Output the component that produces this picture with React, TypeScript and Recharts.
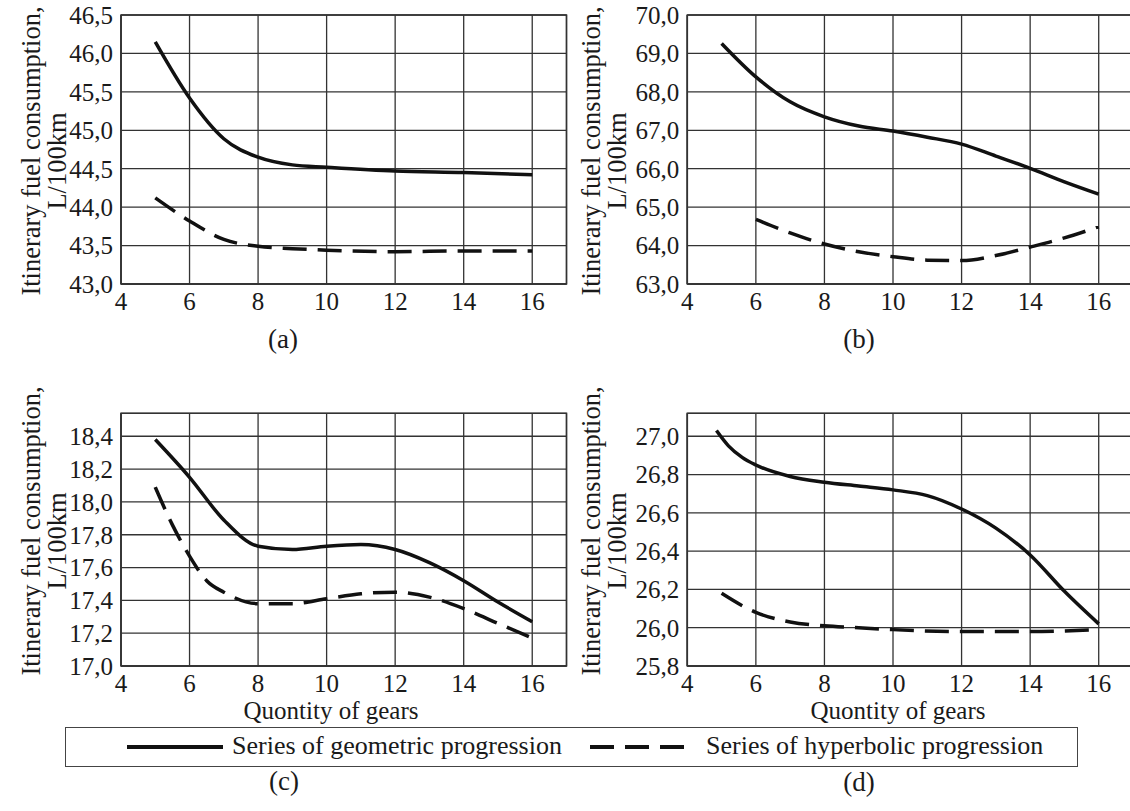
import React from "react";
import { LineChart, Line, XAxis, YAxis, CartesianGrid, ReferenceArea } from "recharts";

const FONT = '"Liberation Serif", "Times New Roman", serif';
const INK = "#1a1a1a";

const xTicks = [4, 6, 8, 10, 12, 14, 16];

// (a)
const gearsGeomA = [5, 6, 7, 8, 9, 10, 12, 14, 16];
const geomA = [46.15, 45.42, 44.89, 44.65, 44.55, 44.52, 44.47, 44.45, 44.42];
const gearsHypA = [5, 6, 7, 8, 9, 10, 12, 14, 16];
const hypA = [44.12, 43.82, 43.58, 43.49, 43.46, 43.44, 43.42, 43.43, 43.43];
const yTicksA = [43, 43.5, 44, 44.5, 45, 45.5, 46, 46.5];

// (b)
const gearsGeomB = [5, 6, 7, 8, 9, 10, 11, 12, 13, 14, 15, 16];
const geomB = [69.26, 68.39, 67.74, 67.35, 67.11, 66.98, 66.82, 66.64, 66.33, 66.01, 65.66, 65.34];
const gearsHypB = [6, 7, 8, 9, 10, 11, 12, 13, 14, 15, 16];
const hypB = [64.68, 64.33, 64.04, 63.84, 63.71, 63.62, 63.61, 63.74, 63.96, 64.2, 64.49];
const yTicksB = [63, 64, 65, 66, 67, 68, 69, 70];

// (c)
const gearsGeomC = [5, 6, 7, 8, 9, 10, 11, 12, 13, 14, 15, 16];
const geomC = [18.38, 18.15, 17.89, 17.73, 17.71, 17.73, 17.74, 17.71, 17.63, 17.52, 17.39, 17.27];
const gearsHypC = [5, 5.5, 6, 6.5, 7, 8, 9, 10, 11, 12, 13, 14, 15, 16];
const hypC = [18.09, 17.86, 17.67, 17.52, 17.45, 17.38, 17.38, 17.41, 17.44, 17.45, 17.42, 17.35, 17.26, 17.17];
const yTicksC = [17, 17.2, 17.4, 17.6, 17.8, 18, 18.2, 18.4];

// (d)
const gearsGeomD = [4.85, 5.2, 5.6, 6, 7, 8, 9, 10, 11, 12, 13, 14, 15, 16];
const geomD = [27.03, 26.95, 26.89, 26.85, 26.79, 26.76, 26.74, 26.72, 26.69, 26.62, 26.52, 26.38, 26.19, 26.02];
const gearsHypD = [5, 6, 7, 8, 9, 10, 12, 14, 16];
const hypD = [26.18, 26.08, 26.03, 26.01, 26.0, 25.99, 25.98, 25.98, 25.99];
const yTicksD = [25.8, 26, 26.2, 26.4, 26.6, 26.8, 27];

const zip = (xs: number[], ys: number[]) => xs.map((x, i) => ({ x, y: ys[i] }));
const comma = (v: number) => v.toFixed(1).replace(".", ",");

// custom ticks so the serif face is really used
const XTick = (p: any) => (
  <text x={p.x} y={p.y} dy="0.71em" textAnchor="middle" fontFamily={FONT} fontSize={25} fill={INK}>
    {p.payload.value}
  </text>
);
const YTick = (p: any) => (
  <text x={p.x} y={p.y} dy="0.355em" textAnchor="end" fontFamily={FONT} fontSize={25} fill={INK}>
    {comma(p.payload.value)}
  </text>
);

interface PanelProps {
  left: number; top: number; axisW: number; mTop: number; mRight: number; mBottom: number;
  yDomain: [number, number]; yTicks: number[];
  geom: { x: number; y: number }[]; hyp: { x: number; y: number }[];
}

function Panel({ left, top, axisW, mTop, mRight, mBottom, yDomain, yTicks, geom, hyp }: PanelProps) {
  return (
    <div style={{ position: "absolute", left, top }}>
      <LineChart width={600} height={330} margin={{ top: mTop, right: mRight, left: 0, bottom: mBottom }}>
        <CartesianGrid stroke="#333" strokeWidth={1.3} />
        <XAxis type="number" dataKey="x" domain={[4, 17]} ticks={xTicks} allowDataOverflow
          tickLine={false} axisLine={{ stroke: "#333", strokeWidth: 1.5 }} tick={<XTick />} height={30} interval={0} />
        <YAxis type="number" domain={yDomain} ticks={yTicks} allowDataOverflow width={axisW}
          tickLine={false} axisLine={{ stroke: "#333", strokeWidth: 1.5 }} tick={<YTick />} interval={0} />
        <ReferenceArea x1={4} x2={17} y1={yDomain[0]} y2={yDomain[1]} fill="none" fillOpacity={0}
          stroke="#333" strokeWidth={1.5} />
        <Line data={geom} dataKey="y" type="monotone" stroke="#111" strokeWidth={3.5} dot={false}
          isAnimationActive={false} />
        <Line data={hyp} dataKey="y" type="monotone" stroke="#111" strokeWidth={3.5} strokeDasharray="24 11"
          dot={false} isAnimationActive={false} />
      </LineChart>
    </div>
  );
}

function Txt({ cx, cy, size, rotate, children }: { cx: number; cy: number; size: number; rotate?: boolean; children: React.ReactNode }) {
  return (
    <div style={{
      position: "absolute", left: cx, top: cy, fontFamily: FONT, fontSize: size, lineHeight: 1,
      color: INK, whiteSpace: "nowrap",
      transform: `translate(-50%, -50%)${rotate ? " rotate(-90deg)" : ""}`,
    }}>{children}</div>
  );
}

function YTitle({ x, y }: { x: number; y: number }) {
  return (
    <>
      <Txt cx={x + 31} cy={y + 151} size={26.5} rotate>Itinerary fuel consumption,</Txt>
      <Txt cx={x + 57} cy={y + 161} size={26.5} rotate>L/100km</Txt>
    </>
  );
}

export default function App() {
  return (
    <div style={{ position: "absolute", left: 0, top: 0, width: 1130, height: 811, background: "#fff", overflow: "hidden" }}>
      <Panel left={0} top={0} axisW={121} mTop={15} mRight={33.5} mBottom={16}
        yDomain={[43, 46.5]} yTicks={yTicksA} geom={zip(gearsGeomA, geomA)} hyp={zip(gearsHypA, hypA)} />
      <Panel left={560} top={0} axisW={127.3} mTop={15} mRight={27} mBottom={16}
        yDomain={[63, 70]} yTicks={yTicksB} geom={zip(gearsGeomB, geomB)} hyp={zip(gearsHypB, hypB)} />
      <Panel left={0} top={380} axisW={121} mTop={33.3} mRight={33.5} mBottom={14}
        yDomain={[17, 18.54]} yTicks={yTicksC} geom={zip(gearsGeomC, geomC)} hyp={zip(gearsHypC, hypC)} />
      <Panel left={560} top={380} axisW={127.3} mTop={33.3} mRight={27} mBottom={14}
        yDomain={[25.8, 27.12]} yTicks={yTicksD} geom={zip(gearsGeomD, geomD)} hyp={zip(gearsHypD, hypD)} />

      <YTitle x={0} y={0} />
      <YTitle x={560} y={0} />
      <YTitle x={0} y={380} />
      <YTitle x={560} y={380} />

      <Txt cx={283} cy={339} size={27}>(a)</Txt>
      <Txt cx={859} cy={339} size={27}>(b)</Txt>
      <Txt cx={331} cy={710} size={25}>Quontity of gears</Txt>
      <Txt cx={898} cy={710} size={25}>Quontity of gears</Txt>
      <Txt cx={284} cy={781} size={27}>(c)</Txt>
      <Txt cx={859} cy={782} size={27}>(d)</Txt>

      <div style={{ position: "absolute", left: 65, top: 727, width: 1013, height: 40, border: "1.5px solid #444", boxSizing: "border-box" }}>
        <svg style={{ position: "absolute", left: 0, top: 0 }} width={1010} height={37}>
          <line x1={61} x2={157} y1={19} y2={19} stroke="#111" strokeWidth={4} />
          <line x1={524} x2={621} y1={19} y2={19} stroke="#111" strokeWidth={4} strokeDasharray="24 11" />
        </svg>
        <div style={{ position: "absolute", left: 166, top: 5, fontFamily: FONT, fontSize: 26, lineHeight: 1, color: INK, whiteSpace: "nowrap" }}>
          Series of geometric progression
        </div>
        <div style={{ position: "absolute", left: 640, top: 5, fontFamily: FONT, fontSize: 26, lineHeight: 1, color: INK, whiteSpace: "nowrap" }}>
          Series of hyperbolic progression
        </div>
      </div>
    </div>
  );
}
